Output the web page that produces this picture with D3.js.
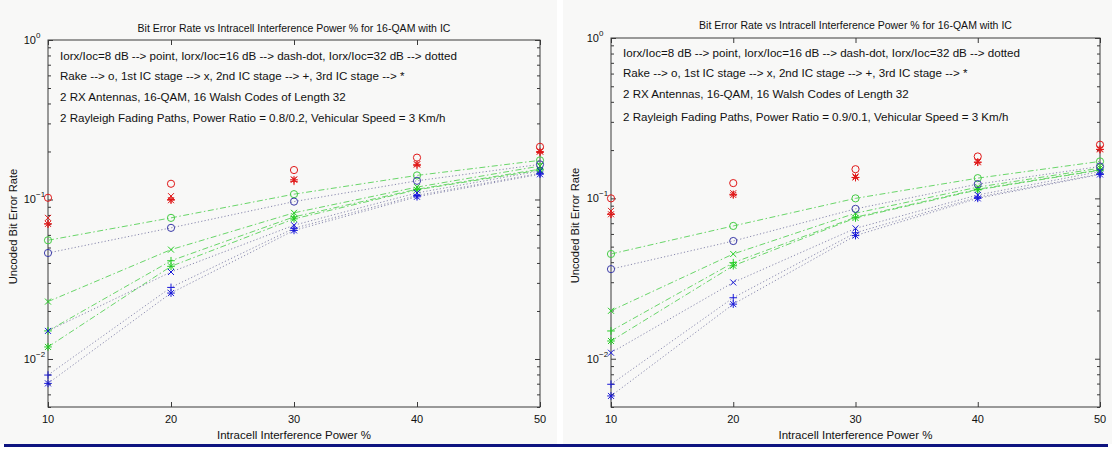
<!DOCTYPE html>
<html><head><meta charset="utf-8">
<script src="https://cdn.jsdelivr.net/npm/d3@7"></script>
<style>
body{margin:0;background:#fff;}
svg text{font-family:"Liberation Sans",Arial,Helvetica,sans-serif;fill:#111;}
</style></head>
<body><svg id="c" width="1112" height="450"></svg>
<script>
// ---------- data ----------
const xValues = [10, 20, 30, 40, 50];
const xTicks = [10, 20, 30, 40, 50];
const yTickExps = [0, -1, -2];
const receivers = ["Rake", "1st IC stage", "2nd IC stage", "3rd IC stage"];
const markerShapes = ["o", "x", "+", "*"];
const snrLabels = ["8 dB", "16 dB", "32 dB"];
const titleText = "Bit Error Rate vs Intracell Interference Power % for 16-QAM with IC";
const xLabelText = "Intracell Interference Power %";
const yLabelText = "Uncoded Bit Error Rate";
const notesLeft = [
  "Iorx/Ioc=8 dB --> point, Iorx/Ioc=16 dB --> dash-dot, Iorx/Ioc=32 dB --> dotted",
  "Rake --> o, 1st IC stage --> x, 2nd IC stage --> +, 3rd IC stage --> *",
  "2 RX Antennas, 16-QAM, 16 Walsh Codes of Length 32",
  "2 Rayleigh Fading Paths, Power Ratio = 0.8/0.2, Vehicular Speed = 3 Km/h"
];
const notesRight = [
  "Iorx/Ioc=8 dB --> point, Iorx/Ioc=16 dB --> dash-dot, Iorx/Ioc=32 dB --> dotted",
  "Rake --> o, 1st IC stage --> x, 2nd IC stage --> +, 3rd IC stage --> *",
  "2 RX Antennas, 16-QAM, 16 Walsh Codes of Length 32",
  "2 Rayleigh Fading Paths, Power Ratio = 0.9/0.1, Vehicular Speed = 3 Km/h"
];
// Left panel (power ratio 0.8/0.2): rows = Rake, 1st IC, 2nd IC, 3rd IC
const left8dB = [
  [0.1025, 0.1255, 0.153, 0.183, 0.214],
  [0.0767, 0.105, 0.1336, 0.166, 0.200],
  [0.0703, 0.100, 0.130, 0.163, 0.197],
  [0.0703, 0.099, 0.133, 0.166, 0.200]
];
const left16dB = [
  [0.0555, 0.0767, 0.108, 0.1416, 0.176],
  [0.0229, 0.0485, 0.0825, 0.1196, 0.162],
  [0.0150, 0.0413, 0.0778, 0.1160, 0.155],
  [0.0119, 0.0381, 0.0756, 0.1150, 0.153]
];
const left32dB = [
  [0.0462, 0.0664, 0.097, 0.131, 0.166],
  [0.0150, 0.0351, 0.069, 0.110, 0.151],
  [0.00793, 0.0281, 0.066, 0.106, 0.146],
  [0.00703, 0.0259, 0.064, 0.104, 0.144]
];
// Right panel (power ratio 0.9/0.1)
const right8dB = [
  [0.100, 0.1245, 0.152, 0.1825, 0.216],
  [0.0835, 0.1077, 0.137, 0.170, 0.204],
  [0.0796, 0.106, 0.135, 0.168, 0.202],
  [0.0796, 0.105, 0.135, 0.168, 0.202]
];
const right16dB = [
  [0.045, 0.0673, 0.100, 0.1337, 0.170],
  [0.0199, 0.045, 0.0808, 0.1175, 0.1544],
  [0.0149, 0.0397, 0.0763, 0.114, 0.1507],
  [0.0129, 0.038, 0.0755, 0.113, 0.150]
];
const right32dB = [
  [0.0362, 0.0542, 0.086, 0.1227, 0.158],
  [0.0109, 0.0299, 0.065, 0.105, 0.147],
  [0.00693, 0.024, 0.061, 0.1017, 0.142],
  [0.00586, 0.0219, 0.0586, 0.100, 0.141]
];

// ---------- drawing ----------
const svg = d3.select("#c");
svg.append("rect").attr("x",0).attr("y",0).attr("width",557).attr("height",444).attr("fill","#f8f8f7");
svg.append("rect").attr("x",563).attr("y",0).attr("width",549).attr("height",444).attr("fill","#f8f8f7");
svg.append("rect").attr("x",4).attr("y",444).attr("width",1104).attr("height",3).attr("fill","#0e1480");

const seriesStyle = [
  {marker:"#e01818", line:null, dash:null},
  {marker:"#22cc22", circ:"#44cc44", line:"#6ad66a", dash:"6,2.5,1.5,2.5"},
  {marker:"#1818d8", circ:"#3a3aa8", line:"#8a8aae", dash:"1.2,2.2"}
];

function markerPath(shape){
  const p = d3.path();
  if(shape==="o"){ p.arc(0,0,3.6,0,2*Math.PI); }
  if(shape==="x"||shape==="*"){ p.moveTo(-3,-3);p.lineTo(3,3);p.moveTo(-3,3);p.lineTo(3,-3); }
  if(shape==="+"||shape==="*"){ p.moveTo(-3.8,0);p.lineTo(3.8,0);p.moveTo(0,-3.8);p.lineTo(0,3.8); }
  return p.toString();
}

function drawPanel(cfg){
  const g = svg.append("g");
  const x = d3.scaleLinear().domain([10,50]).range([cfg.x0,cfg.x1]);
  const y = d3.scaleLog().domain([0.005,1]).range([cfg.yb,cfg.yt]);
  const axisCol = "#3a3a3a";

  const minors = [];
  [-3,-2,-1].forEach(e=>{ for(let k=2;k<=9;k++){ const v=k*Math.pow(10,e); if(v>=0.005&&v<1) minors.push(v);} });
  const majorsY = yTickExps.map(e=>Math.pow(10,e));
  const clean = a=>{a.select(".domain").remove();a.selectAll("line").attr("stroke",axisCol);};
  g.append("g").attr("transform",`translate(${cfg.x0},0)`)
    .call(d3.axisRight(y).tickValues(minors).tickSize(3).tickFormat("")).call(clean);
  g.append("g").attr("transform",`translate(${cfg.x1},0)`)
    .call(d3.axisLeft(y).tickValues(minors).tickSize(3).tickFormat("")).call(clean);
  g.append("g").attr("transform",`translate(${cfg.x0},0)`)
    .call(d3.axisRight(y).tickValues(majorsY).tickSize(5).tickFormat("")).call(clean);
  g.append("g").attr("transform",`translate(${cfg.x1},0)`)
    .call(d3.axisLeft(y).tickValues(majorsY).tickSize(5).tickFormat("")).call(clean);
  g.append("g").attr("transform",`translate(0,${cfg.yb})`)
    .call(d3.axisTop(x).tickValues(xTicks).tickSize(5).tickFormat("")).call(clean);
  g.append("g").attr("transform",`translate(0,${cfg.yt})`)
    .call(d3.axisBottom(x).tickValues(xTicks).tickSize(5).tickFormat("")).call(clean);
  g.append("rect").attr("x",cfg.x0).attr("y",cfg.yt).attr("width",cfg.x1-cfg.x0).attr("height",cfg.yb-cfg.yt)
    .attr("fill","none").attr("stroke",axisCol).attr("stroke-width",1);

  g.selectAll(".xl").data(xTicks).join("text")
    .attr("x",d=>x(d)).attr("y",cfg.yb+16).attr("text-anchor","middle").attr("font-size",11).text(d=>d);
  yTickExps.forEach(e=>{
    g.append("text").attr("x",cfg.x0-12).attr("y",y(Math.pow(10,e))+4).attr("text-anchor","end").attr("font-size",11).text("10");
    g.append("text").attr("x",cfg.x0-12).attr("y",y(Math.pow(10,e))-2).attr("font-size",8).text(String(e).replace("-","\u2212"));
  });

  g.append("text").attr("x",(cfg.x0+cfg.x1)/2).attr("y",cfg.titleY).attr("text-anchor","middle").attr("font-size",10.5).text(titleText);
  g.append("text").attr("x",(cfg.x0+cfg.x1)/2).attr("y",cfg.yb+32).attr("text-anchor","middle").attr("font-size",11.5).text(xLabelText);
  g.append("text").attr("transform",`translate(${cfg.ylabX},${(cfg.yt+cfg.yb)/2+3}) rotate(-90)`).attr("text-anchor","middle").attr("font-size",11.2).text(yLabelText);
  cfg.notes.forEach((n,i)=>{
    g.append("text").attr("x",cfg.x0+12).attr("y",cfg.noteY[i]).attr("font-size",11.6).text(n);
  });

  const line = d3.line().x((d,i)=>x(xValues[i])).y(d=>y(d));
  cfg.data.forEach((group,si)=>{
    const st = seriesStyle[si];
    if(st.line){
      group.forEach(vals=>{
        g.append("path").attr("d",line(vals)).attr("fill","none").attr("stroke",st.line)
          .attr("stroke-width",1).attr("stroke-dasharray",st.dash);
      });
    }
  });
  cfg.data.forEach((group,si)=>{
    const st = seriesStyle[si];
    group.forEach((vals,ri)=>{
      const shape = markerShapes[ri];
      g.selectAll(null).data(vals).join("path")
        .attr("transform",(d,i)=>`translate(${x(xValues[i])},${y(d)})`)
        .attr("d",markerPath(shape)).attr("fill","none")
        .attr("stroke", shape==="o" && st.circ ? st.circ : st.marker).attr("stroke-width",1);
    });
  });
}

drawPanel({x0:48,x1:540,yt:40,yb:407,titleY:32,ylabX:17,notes:notesLeft,noteY:[60,80,101,122],
  data:[left8dB,left16dB,left32dB]});
drawPanel({x0:611,x1:1100,yt:38,yb:407,titleY:29,ylabX:579,notes:notesRight,noteY:[57,77,98,121],
  data:[right8dB,right16dB,right32dB]});
</script></body></html>
